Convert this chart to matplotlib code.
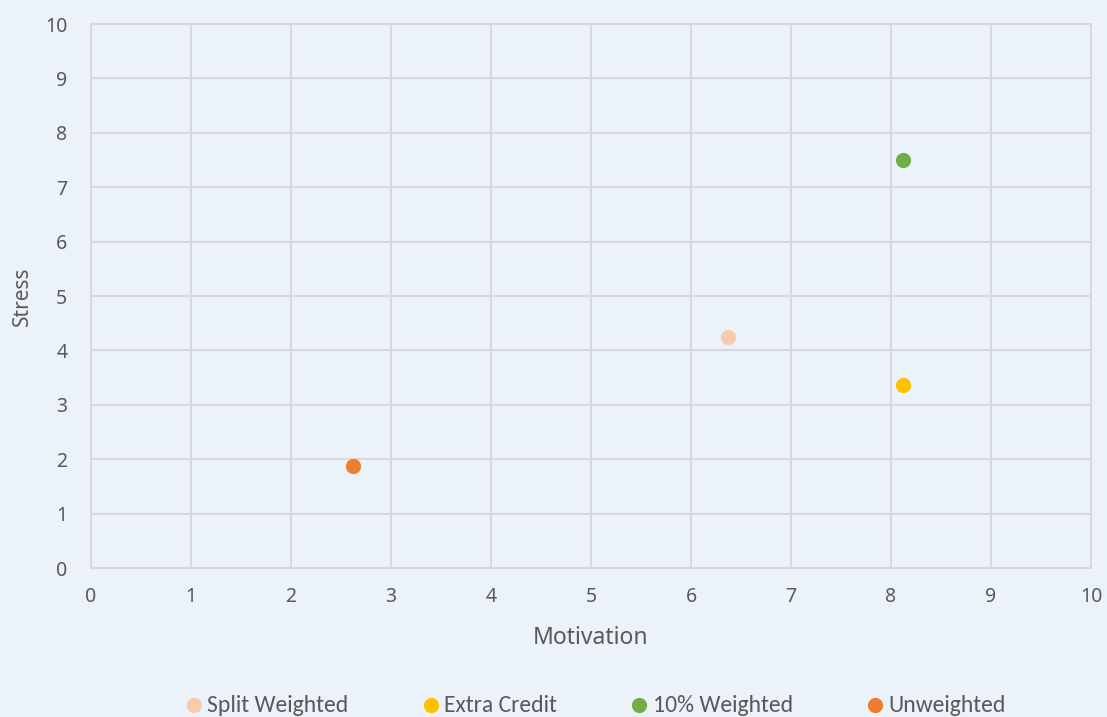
import matplotlib.pyplot as plt

# data
series = ['Split Weighted', 'Extra Credit', '10% Weighted', 'Unweighted']
motivation = [6.37, 8.12, 8.12, 2.62]
stress = [4.25, 3.37, 7.50, 1.87]
colors = ['#F8CBAD', '#FFC000', '#70AD47', '#ED7D31']

bg = '#EBF2FA'
grid_c = '#D9D9D9'
text_c = '#595959'

plt.rcParams['font.family'] = ['Noto Sans', 'DejaVu Sans']

fig = plt.figure(figsize=(11.07, 7.17), dpi=100, facecolor=bg)
ax = fig.add_axes([91 / 1107, 149 / 717, 1000 / 1107, 544 / 717])
ax.set_facecolor(bg)

for name, x, y, c in zip(series, motivation, stress, colors):
    ax.scatter([x], [y], s=120, color=c, label=name, zorder=3, linewidths=0)

ax.set_xlim(0, 10)
ax.set_ylim(0, 10)
ax.set_xticks(range(0, 11))
ax.set_yticks(range(0, 11))
ax.grid(True, color=grid_c, linewidth=1.5)
ax.set_axisbelow(True)
for s in ax.spines.values():
    s.set_color(grid_c)
    s.set_linewidth(1.5)
ax.tick_params(length=0, labelsize=14, labelcolor=text_c)
ax.tick_params(axis='x', pad=14)
ax.tick_params(axis='y', pad=17)

ax.set_xlabel('Motivation', fontsize=16.5, color=text_c, labelpad=13)
ax.set_ylabel('Stress', fontsize=15, color=text_c, labelpad=9)

leg = fig.legend(loc='center', bbox_to_anchor=(0.539, 12 / 717), ncol=4,
                 frameon=False, borderpad=0, handlelength=0.55,
                 handletextpad=0.3, columnspacing=3.2,
                 prop={'family': ['Carlito', 'DejaVu Sans'], 'size': 17})
for t in leg.get_texts():
    t.set_color(text_c)

fig.savefig('out.png', dpi=100, facecolor=bg)
